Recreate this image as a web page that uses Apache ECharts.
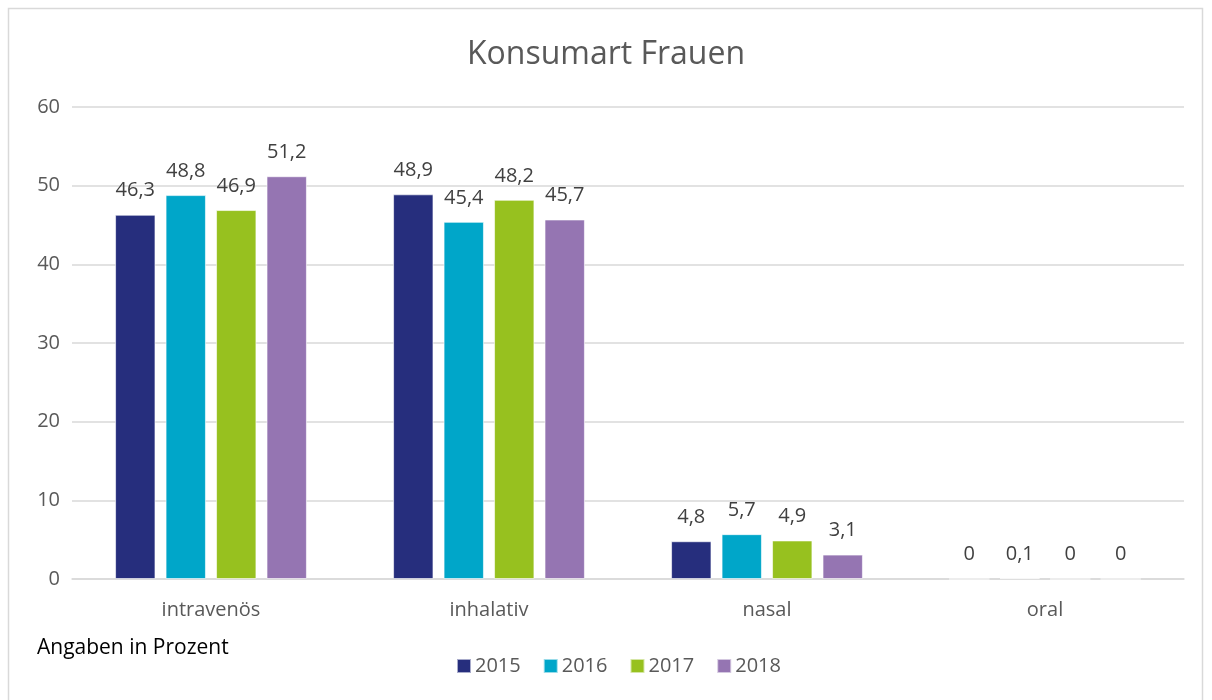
<!DOCTYPE html>
<html>
<head>
<meta charset="utf-8">
<script src="https://cdn.jsdelivr.net/npm/echarts@6/dist/echarts.min.js"></script>
<style>
  html, body { margin: 0; padding: 0; background: #fff; }
  #chart { width: 1212px; height: 700px; }
</style>
</head>
<body>
<div id="chart"></div>
<script>
// Daten
var categories = ['intravenös', 'inhalativ', 'nasal', 'oral'];
var years = ['2015', '2016', '2017', '2018'];
var v2015 = [46.3, 48.9, 4.8, 0];
var v2016 = [48.8, 45.4, 5.7, 0.1];
var v2017 = [46.9, 48.2, 4.9, 0];
var v2018 = [51.2, 45.7, 3.1, 0];
var yTicks = [0, 10, 20, 30, 40, 50, 60];

var values = [v2015, v2016, v2017, v2018];
var colors = ['#262E7D', '#00A6C9', '#97C11F', '#9575B2'];

var chart = echarts.init(document.getElementById('chart'));

var series = [];
for (var i = 0; i < years.length; i++) {
    series.push({
        name: years[i],
        type: 'bar',
        data: values[i],
        barGap: '25%',
        barCategoryGap: '31%',
        itemStyle: {
            color: colors[i],
            borderColor: 'rgba(255,255,255,0.6)',
            borderWidth: 1
        },
        label: {
            show: true,
            position: 'top',
            distance: 14,
            color: '#404040',
            fontSize: 20,
            fontFamily: 'Open Sans',
            formatter: function (p) {
                return String(p.value).replace('.', ',');
            }
        }
    });
}

var option = {
    animation: false,
    backgroundColor: '#fff',
    title: {
        text: 'Konsumart Frauen',
        left: 'center',
        top: 34,
        textStyle: {
            color: '#595959',
            fontSize: 32,
            fontWeight: 'normal',
            fontFamily: 'Open Sans'
        }
    },
    legend: {
        data: years,
        left: 451,
        top: 651,
        itemWidth: 14,
        itemHeight: 14,
        itemGap: 22,
        icon: 'rect',
        textStyle: {
            color: '#595959',
            fontSize: 20,
            fontFamily: 'Open Sans',
            padding: [0, 0, 0, -1]
        }
    },
    grid: {
        left: 72,
        right: 28,
        top: 107,
        bottom: 121
    },
    xAxis: {
        type: 'category',
        data: categories,
        axisTick: { show: false },
        axisLine: { lineStyle: { color: '#D9D9D9', width: 1.5 } },
        axisLabel: {
            color: '#595959',
            fontSize: 20,
            fontFamily: 'Open Sans',
            margin: 21
        }
    },
    yAxis: {
        type: 'value',
        min: yTicks[0],
        max: yTicks[yTicks.length - 1],
        interval: 10,
        axisLine: { show: false },
        axisTick: { show: false },
        splitLine: { lineStyle: { color: '#D9D9D9', width: 1.5 } },
        axisLabel: {
            color: '#595959',
            fontSize: 20,
            fontFamily: 'Open Sans',
            margin: 12
        }
    },
    graphic: [
        {
            type: 'rect',
            shape: { x: 8.5, y: 8.5, width: 1194, height: 700 },
            style: { fill: 'none', stroke: '#D9D9D9', lineWidth: 1.5 }
        },
        {
            type: 'text',
            left: 37,
            top: 638,
            style: {
                text: 'Angaben in Prozent',
                fill: '#000',
                fontSize: 21,
                fontFamily: 'Open Sans'
            }
        }
    ],
    series: series
};

chart.setOption(option);
</script>
</body>
</html>
